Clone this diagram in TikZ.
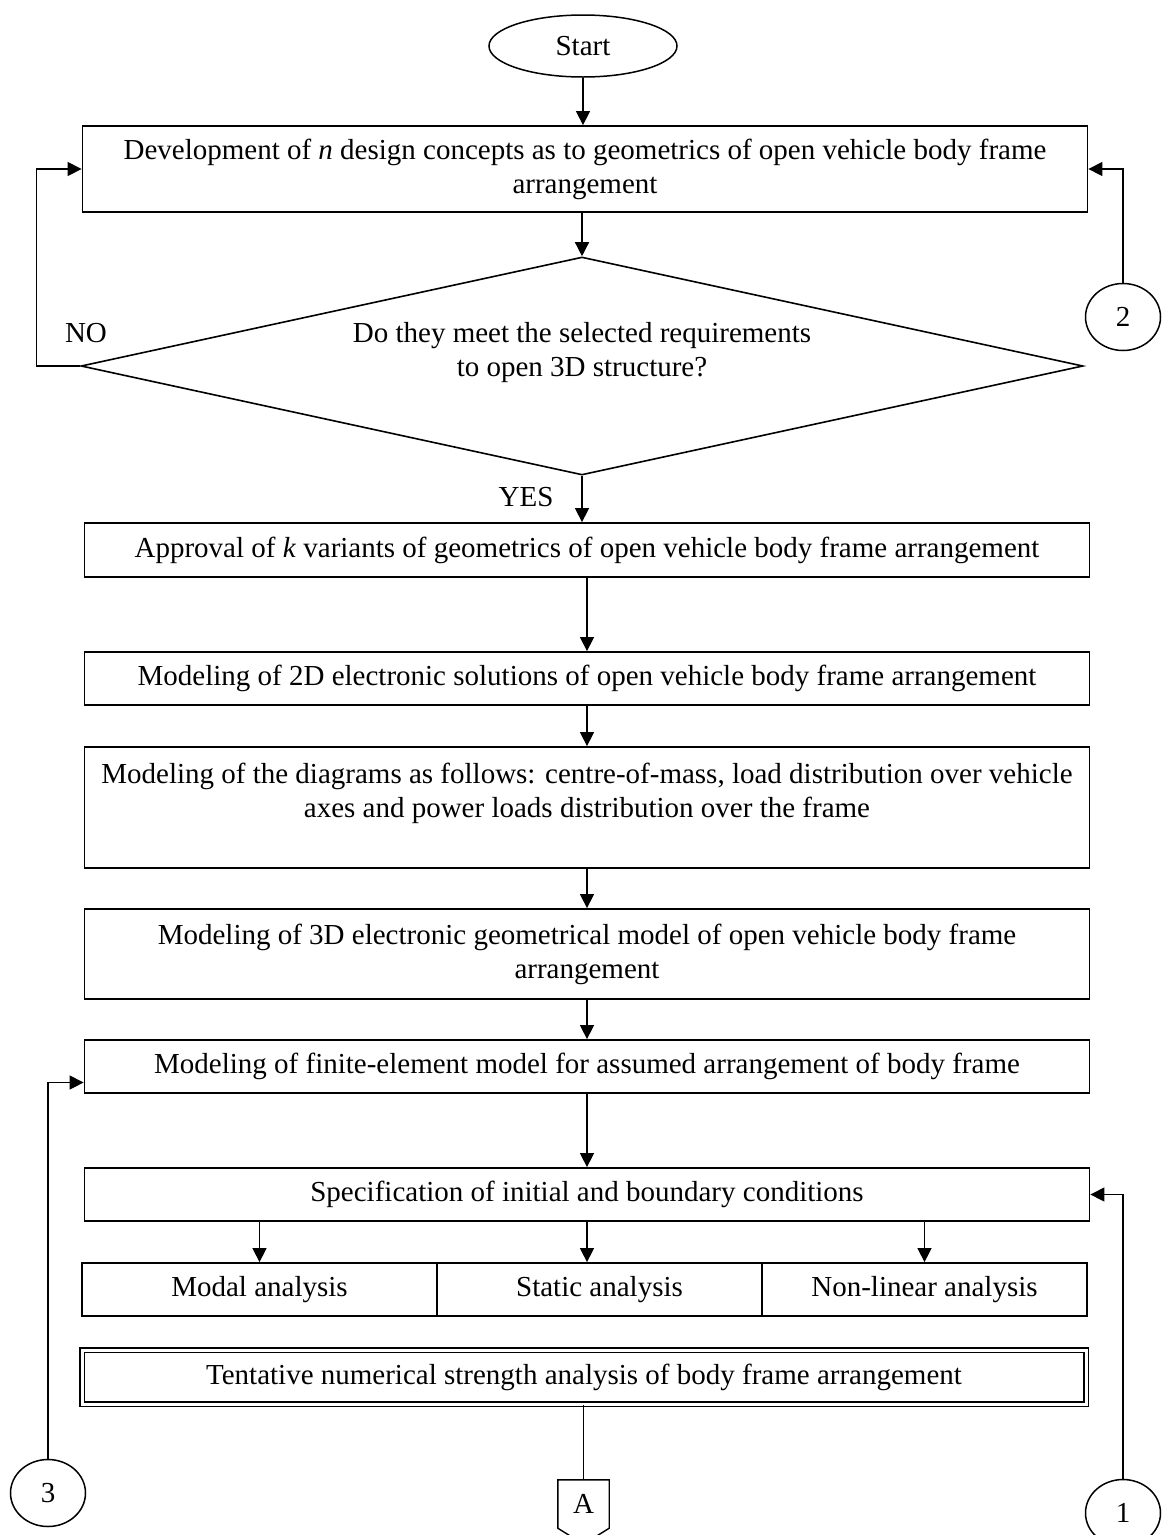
\documentclass[tikz,border=0pt]{standalone}
\usepackage{fontspec}
\setmainfont{Liberation Serif}
\usetikzlibrary{shapes.geometric,arrows.meta,calc}
\tikzset{
  txt/.style={font=\fontsize{29}{34}\selectfont},
  box/.style={txt, draw, line width=1.8pt, minimum width=1005pt, inner sep=0pt, align=center},
  dbox/.style={box, double, double distance=3pt, line width=1.3pt},
  decision/.style={txt, diamond, draw, line width=1.6pt, minimum width=1002pt, minimum height=218pt, shape aspect=4.6, inner sep=0pt, align=center},
  term/.style={txt, ellipse, draw, line width=1.5pt, minimum width=188pt, minimum height=62pt},
  conn/.style={txt, ellipse, draw, line width=1.5pt, minimum width=75pt, minimum height=67pt, inner sep=0pt},
  ln/.style={line width=1.4pt},
  arr/.style={ln, -{Triangle[length=14pt,width=14pt]}}
}
\begin{document}
\begin{tikzpicture}[x=1pt,y=-1pt]
    \useasboundingbox (0,0) rectangle (1162,1535);
    % main column
    \node[term] (start) at (583,46) {Start};
    \node[box, minimum height=86pt] (dev) at (585,169)
        {Development of \textit{n} design concepts as to geometrics of open vehicle body frame\\arrangement};
    \node[decision] (dia) at (582,366)
        {Do they meet the selected requirements\\to open 3D structure?\\ ~};
    \node[box, minimum height=54pt] (appr) at (587,550)
        {Approval of \textit{k} variants of geometrics of open vehicle body frame arrangement};
    \node[box, minimum height=53pt] (mod2d) at (587,678.5)
        {Modeling of 2D electronic solutions of open vehicle body frame arrangement};
    \node[box, minimum height=121pt] (com) at (587,807.5)
        {Modeling of the diagrams as follows: centre-of-mass, load distribution over vehicle\\axes and power loads distribution over the frame\\ ~};
    \node[box, minimum height=90pt] (m3d) at (587,954)
        {Modeling of 3D electronic geometrical model of open vehicle body frame\\arrangement};
    \node[box, minimum height=53pt] (fem) at (587,1066.5)
        {Modeling of finite-element model for assumed arrangement of body frame};
    \node[box, minimum height=53pt] (spec) at (587,1194.5)
        {Specification of initial and boundary conditions};

    % analysis row
    \node[box, minimum width=355pt, minimum height=53pt] (modal) at (259.5,1289.5) {Modal analysis};
    \node[box, minimum width=325pt, minimum height=53pt] (static) at (599.5,1289.5) {Static analysis};
    \node[box, minimum width=325pt, minimum height=53pt] (nonlin) at (924.5,1289.5) {Non-linear analysis};

    \node[dbox, minimum width=1004pt, minimum height=54pt] (tent) at (584,1377)
        {Tentative numerical strength analysis of body frame arrangement};

    % connectors
    \node[conn] (c2) at (1123,317) {2};
    \node[conn] (c3) at (48,1493) {3};
    \node[conn] (c1) at (1123,1513) {1};
    \node[txt, minimum width=51pt, minimum height=48pt, inner sep=0pt] (offA) at (583.5,1504) {A};
    \draw[ln] (offA.north west) -- (offA.north east) -- (offA.south east)
        -- ($(offA.south)+(0,16)$) -- (offA.south west) -- cycle;

    % labels
    \node[txt] (no) at (86,333) {NO};
    \node[txt] (yes) at (526,497) {YES};

    % arrows
    \draw[arr] (start) -- (start |- dev.north);
    \draw[arr] (dia.north |- dev.south) -- (dia.north);
    \draw[arr] (dia.south) -- (dia.south |- appr.north);
    \draw[arr] (appr) -- (mod2d);
    \draw[arr] (mod2d) -- (com);
    \draw[arr] (com) -- (m3d);
    \draw[arr] (m3d) -- (fem);
    \draw[arr] (fem) -- (spec);
    \draw[arr] (spec.south -| modal) -- (modal);
    \draw[arr] (spec.south) -- (spec.south |- static.north);
    \draw[arr] (spec.south -| nonlin) -- (nonlin);
    \draw[ln] (tent.south -| offA) -- (offA);
    \draw[arr] (dia.west) -- ++(-44,0) |- (dev.west);
    \draw[arr] (c2.north) |- (dev.east);
    \draw[arr] (c3.north) |- ([yshift=-16pt]fem.west);
    \draw[arr] (c1.north) |- (spec.east);
\end{tikzpicture}
\end{document}
